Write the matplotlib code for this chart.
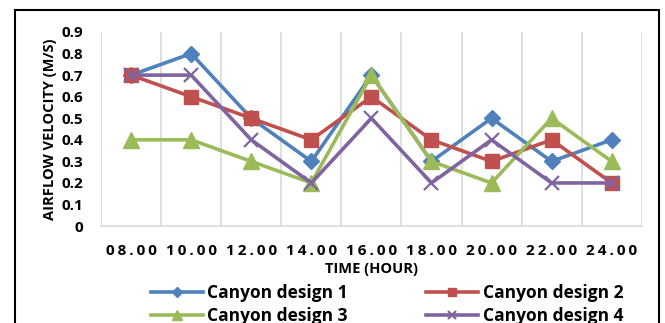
import matplotlib.pyplot as plt
from matplotlib.patches import Rectangle

hours = ["08.00", "10.00", "12.00", "14.00", "16.00", "18.00", "20.00", "22.00", "24.00"]
design1 = [0.7, 0.8, 0.5, 0.3, 0.7, 0.3, 0.5, 0.3, 0.4]
design2 = [0.7, 0.6, 0.5, 0.4, 0.6, 0.4, 0.3, 0.4, 0.2]
design3 = [0.4, 0.4, 0.3, 0.2, 0.7, 0.3, 0.2, 0.5, 0.3]
design4 = [0.7, 0.7, 0.4, 0.2, 0.5, 0.2, 0.4, 0.2, 0.2]
names = ["Canyon design 1", "Canyon design 2", "Canyon design 3", "Canyon design 4"]

plt.rcParams['font.family'] = ['Open Sans', 'DejaVu Sans']

fig = plt.figure(figsize=(6.65, 3.23), dpi=100)
ax = fig.add_axes([0.152, 0.300, 0.813, 0.601])

x = list(range(len(hours)))
styles = [
    (design1, '#4F81BD', 'D', 8, None),
    (design2, '#C0504D', 's', 10, None),
    (design3, '#9BBB59', '^', 11, None),
    (design4, '#8064A2', 'x', 10, 1.6),
]
handles = []
for (vals, col, mk, ms, mew), name in zip(styles, names):
    kw = dict(markeredgewidth=mew) if mew else {}
    h, = ax.plot(x, vals, color=col, lw=2.6, marker=mk, markersize=ms,
                 label=name, **kw)
    handles.append(h)

ax.set_xlim(-0.5, len(hours) - 0.5)
ax.set_ylim(0, 0.9)
ax.set_yticks([i / 10 for i in range(10)])
ax.set_yticklabels(["0"] + [f"{i / 10:.1f}" for i in range(1, 10)],
                   fontsize=11, fontweight='bold')
ax.set_xticks(x)
ax.set_xticklabels(["\u2009".join(h) for h in hours], fontsize=11, fontweight='bold')
ax.tick_params(axis='y', length=0, pad=13)
ax.tick_params(axis='x', length=0, pad=13)

# vertical grid on category boundaries
for b in range(len(hours) + 1):
    ax.axvline(b - 0.5, color='#D9D9D9', lw=1.2, zorder=0)
for s in ['top', 'right', 'left']:
    ax.spines[s].set_visible(False)
ax.spines['bottom'].set_color('#D9D9D9')
ax.spines['bottom'].set_linewidth(1.2)

ax.set_ylabel("AIRFLOW VELOCITY (M/S)", fontsize=10.5, fontweight='bold', labelpad=3)
ax.set_xlabel("TIME (HOUR)", fontsize=10.5, fontweight='bold', labelpad=3)

# row-major legend order: 1, 2 on top, 3, 4 below
order = [0, 2, 1, 3]
fig.legend([handles[i] for i in order], [names[i] for i in order],
           loc='upper center', bbox_to_anchor=(0.582, 0.143), ncol=2,
           frameon=False, prop={'size': 12.5, 'weight': 'bold'},
           handlelength=3.0, handletextpad=0.25, columnspacing=4.5,
           labelspacing=0.3, borderaxespad=0, markerscale=0.6)

fig.patches.append(Rectangle((0.023, -0.1), 0.968, 1.069, transform=fig.transFigure,
                             fill=False, edgecolor='black', lw=1.5))

fig.savefig("out.png", dpi=100)
